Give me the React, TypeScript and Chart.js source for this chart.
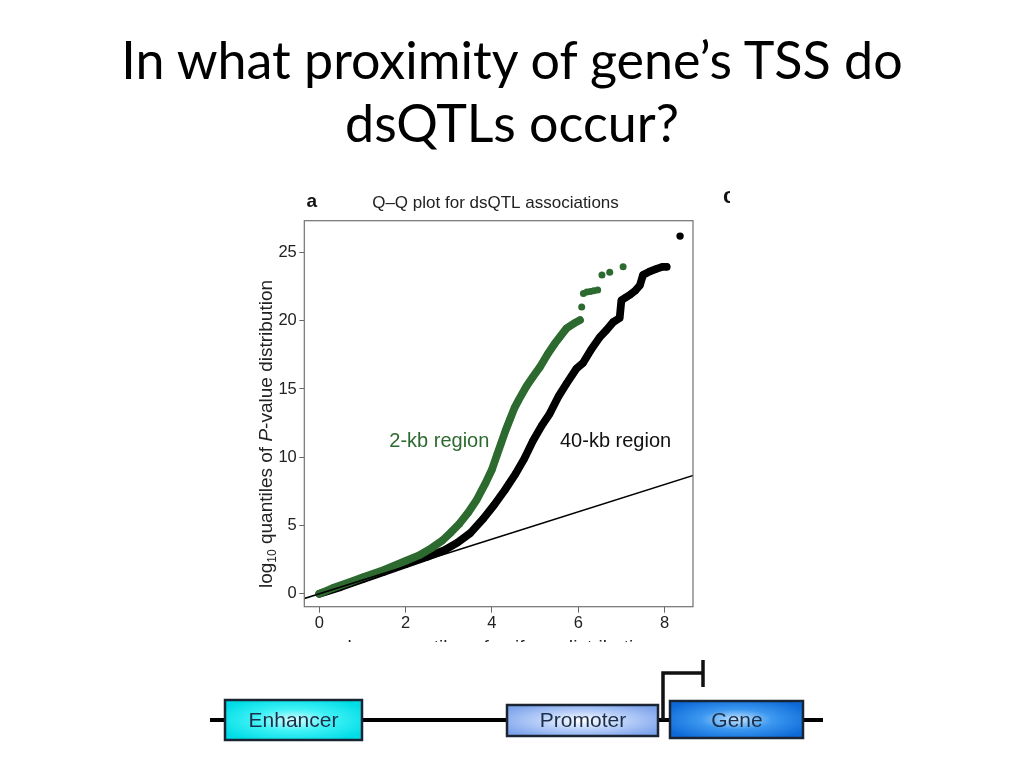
import React, { useEffect, useRef } from 'react';
import { Chart, registerables } from 'chart.js';

Chart.register(...registerables);

// ---- data ----
const xTicks = [0, 2, 4, 6, 8];
const yTicks = [0, 5, 10, 15, 20, 25];

// identity reference line y = x
const identityX = [-1, 9];
const identityY = [-1, 9];

// 2-kb region (green), dense part
const kb2X = [0.0, 0.3, 0.7, 1.0, 1.5, 2.0, 2.3, 2.6, 2.85, 3.05, 3.25, 3.45, 3.65, 3.85, 4.0, 4.12, 4.22, 4.32, 4.42, 4.52, 4.62, 4.8, 4.95, 5.11, 5.3, 5.45, 5.57, 5.73, 5.9, 6.04];
const kb2Y = [0.0, 0.4, 0.85, 1.2, 1.75, 2.4, 2.8, 3.35, 3.9, 4.5, 5.15, 5.95, 6.9, 8.1, 9.1, 10.2, 11.1, 12.0, 12.8, 13.6, 14.2, 15.2, 15.9, 16.6, 17.6, 18.3, 18.8, 19.45, 19.8, 20.05];
// 2-kb region (green), sparse tail
const kb2TailX = [6.08, 6.12, 6.2, 6.28, 6.36, 6.45, 6.55, 6.73, 7.04];
const kb2TailY = [21.0, 22.0, 22.1, 22.15, 22.2, 22.25, 23.35, 23.55, 23.95];

// 40-kb region (black), dense part
const kb40X = [0.0, 0.5, 1.0, 1.5, 2.0, 2.5, 2.9, 3.2, 3.5, 3.8, 4.05, 4.3, 4.55, 4.75, 4.95, 5.15, 5.34, 5.55, 5.73, 5.96, 6.11, 6.3, 6.5, 6.65, 6.81, 6.96, 7.0, 7.1, 7.2, 7.32, 7.43, 7.5, 7.65, 7.81, 7.95, 8.05];
const kb40Y = [0.0, 0.5, 1.05, 1.6, 2.15, 2.7, 3.2, 3.75, 4.45, 5.5, 6.5, 7.6, 8.8, 9.9, 11.2, 12.3, 13.2, 14.5, 15.4, 16.5, 16.9, 17.9, 18.8, 19.3, 19.9, 20.2, 21.5, 21.7, 21.9, 22.2, 22.6, 23.35, 23.6, 23.8, 23.95, 23.95];
// 40-kb region (black), outlier
const kb40TailX = [8.36];
const kb40TailY = [26.2];

const GREEN = '#2d6a2f';
const SANS = '"Liberation Sans", Arial, Helvetica, sans-serif';

const pts = (xs: number[], ys: number[]) => xs.map((x, i) => ({ x, y: ys[i] }));

type Seg = { t: string; font: string; dy: number };

function drawRich(ctx: CanvasRenderingContext2D, segs: Seg[], cx: number, y: number) {
  let total = 0;
  const widths = segs.map((s) => {
    ctx.font = s.font;
    const w = ctx.measureText(s.t).width;
    total += w;
    return w;
  });
  let x = cx - total / 2;
  segs.forEach((s, i) => {
    ctx.font = s.font;
    ctx.fillText(s.t, x, y + s.dy);
    x += widths[i];
  });
}

const annotPlugin = {
  id: 'qqAnnotations',
  afterDraw(chart: any) {
    const ctx: CanvasRenderingContext2D = chart.ctx;
    const a = chart.chartArea;
    ctx.save();
    // plot box
    ctx.strokeStyle = '#707070';
    ctx.lineWidth = 1.2;
    ctx.strokeRect(a.left, a.top, a.right - a.left, a.bottom - a.top);

    ctx.textBaseline = 'alphabetic';
    ctx.textAlign = 'left';
    // panel letters
    ctx.fillStyle = '#111';
    ctx.font = `bold 19px ${SANS}`;
    ctx.fillText('a', 56.5, 21.7);
    ctx.font = `900 22px ${SANS}`;
    ctx.fillText('c', 473, 18);
    // title
    ctx.font = `17px ${SANS}`;
    ctx.textAlign = 'center';
    ctx.fillStyle = '#222';
    ctx.fillText('Q–Q plot for dsQTL associations', 245.5, 22.5);
    // region labels
    ctx.textAlign = 'left';
    ctx.font = `20px ${SANS}`;
    ctx.fillStyle = GREEN;
    ctx.fillText('2-kb region', 139.3, 261.7);
    ctx.fillStyle = '#111';
    ctx.fillText('40-kb region', 310, 261.7);

    // axis titles (rich text)
    const main = `19px ${SANS}`;
    const sub = `12px ${SANS}`;
    const ital = `italic 19px ${SANS}`;
    ctx.fillStyle = '#222';
    ctx.save();
    ctx.translate(21.5, 249);
    ctx.rotate(-Math.PI / 2);
    drawRich(ctx, [
      { t: 'log', font: main, dy: 0 },
      { t: '10', font: sub, dy: 4 },
      { t: ' quantiles of ', font: main, dy: 0 },
      { t: 'P', font: ital, dy: 0 },
      { t: '-value distribution', font: main, dy: 0 },
    ], 0, 0);
    ctx.restore();
    drawRich(ctx, [
      { t: 'log', font: main, dy: 0 },
      { t: '10', font: sub, dy: 4 },
      { t: ' quantiles of uniform distribution', font: main, dy: 0 },
    ], 251, 468);
    ctx.restore();
  },
};

function QQChart() {
  const ref = useRef<HTMLCanvasElement | null>(null);
  useEffect(() => {
    if (!ref.current) return;
    const tickFont = { family: SANS, size: 16.5 };
    const grid = {
      display: true,
      drawOnChartArea: false,
      drawTicks: true,
      tickLength: 5,
      tickColor: '#666',
      lineWidth: 1,
    };
    const chart = new Chart(ref.current, {
      type: 'scatter',
      data: {
        datasets: [
          {
            label: 'identity',
            data: pts(identityX, identityY),
            showLine: true,
            borderColor: '#000',
            borderWidth: 1.6,
            pointRadius: 0,
          },
          {
            label: '2-kb region',
            data: pts(kb2X, kb2Y),
            showLine: true,
            borderColor: GREEN,
            backgroundColor: GREEN,
            pointBackgroundColor: GREEN,
            borderWidth: 7.8,
            pointRadius: 3.5,
            pointBorderWidth: 0,
            borderCapStyle: 'round',
            borderJoinStyle: 'round',
          },
          {
            label: '2-kb region tail',
            data: pts(kb2TailX, kb2TailY),
            showLine: false,
            backgroundColor: GREEN,
            pointBackgroundColor: GREEN,
            pointRadius: 3.5,
            pointBorderWidth: 0,
          },
          {
            label: '40-kb region',
            data: pts(kb40X, kb40Y),
            showLine: true,
            borderColor: '#000',
            backgroundColor: '#000',
            pointBackgroundColor: '#000',
            borderWidth: 7.8,
            pointRadius: 3.5,
            pointBorderWidth: 0,
            borderCapStyle: 'round',
            borderJoinStyle: 'round',
          },
          {
            label: '40-kb region tail',
            data: pts(kb40TailX, kb40TailY),
            showLine: false,
            backgroundColor: '#000',
            pointBackgroundColor: '#000',
            pointRadius: 3.7,
            pointBorderWidth: 0,
          },
        ],
      },
      options: {
        animation: false,
        responsive: false,
        events: [],
        layout: { padding: { top: 35.7, right: 37, left: 0, bottom: 0 } },
        plugins: {
          legend: { display: false },
          tooltip: { enabled: false },
          title: { display: false },
        },
        scales: {
          x: {
            type: 'linear',
            min: -0.35,
            max: 8.66,
            afterBuildTicks: (ax: any) => {
              ax.ticks = xTicks.map((v) => ({ value: v }));
            },
            afterFit: (ax: any) => {
              ax.height = 58.3;
            },
            grid: { ...grid, tickLength: 6 },
            border: { display: false },
            ticks: {
              font: tickFont,
              color: '#222',
              padding: 1,
              maxRotation: 0,
              autoSkip: false,
              callback: (v: any) => String(v),
            },
          },
          y: {
            type: 'linear',
            min: -0.95,
            max: 27.33,
            afterBuildTicks: (ax: any) => {
              ax.ticks = yTicks.map((v) => ({ value: v }));
            },
            afterFit: (ax: any) => {
              ax.width = 54.3;
            },
            grid,
            border: { display: false },
            ticks: {
              font: tickFont,
              color: '#222',
              padding: 2.5,
              autoSkip: false,
              callback: (v: any) => String(v),
            },
          },
        },
      },
      plugins: [annotPlugin],
    } as any);
    return () => chart.destroy();
  }, []);
  return (
    <div style={{ position: 'absolute', left: 250, top: 185, width: 480, height: 457, overflow: 'hidden' }}>
      <canvas ref={ref} width={480} height={480} style={{ width: 480, height: 480, display: 'block' }} />
    </div>
  );
}

function GeneDiagram() {
  const stroke = '#1a2433';
  const textColor = '#1b2f4a';
  const font = SANS;
  return (
    <svg width={1024} height={768} style={{ position: 'absolute', left: 0, top: 0 }}>
      <defs>
        <radialGradient id="gEnh" cx="50%" cy="50%" r="60%">
          <stop offset="0%" stopColor="#d8ffff" />
          <stop offset="45%" stopColor="#40f2f6" />
          <stop offset="100%" stopColor="#00dce6" />
        </radialGradient>
        <radialGradient id="gPro" cx="50%" cy="50%" r="60%">
          <stop offset="0%" stopColor="#ffffff" />
          <stop offset="50%" stopColor="#b6cdf8" />
          <stop offset="100%" stopColor="#7ea4ec" />
        </radialGradient>
        <radialGradient id="gGene" cx="50%" cy="50%" r="60%">
          <stop offset="0%" stopColor="#c6e6ff" />
          <stop offset="45%" stopColor="#3d98f0" />
          <stop offset="100%" stopColor="#0c6ad8" />
        </radialGradient>
      </defs>
      <line x1={210} y1={720} x2={823} y2={720} stroke="#000" strokeWidth={4} />
      <rect x={225} y={700} width={137} height={40} fill="url(#gEnh)" stroke={stroke} strokeWidth={2.5} />
      <text x={293.5} y={727} textAnchor="middle" fontFamily={font} fontSize={21} fill={textColor}>Enhancer</text>
      <rect x={507} y={705} width={151} height={31} fill="url(#gPro)" stroke={stroke} strokeWidth={2.5} />
      <text x={583} y={727} textAnchor="middle" fontFamily={font} fontSize={21} fill={textColor}>Promoter</text>
      <rect x={670} y={701} width={133} height={37} fill="url(#gGene)" stroke={stroke} strokeWidth={2.5} />
      <text x={737} y={727} textAnchor="middle" fontFamily={font} fontSize={21} fill={textColor}>Gene</text>
      <polyline points="663,720 663,673 703,673" fill="none" stroke="#111" strokeWidth={3.5} />
      <line x1={703} y1={660} x2={703} y2={687} stroke="#111" strokeWidth={3.5} />
    </svg>
  );
}

export default function App() {
  return (
    <div style={{ position: 'fixed', left: 0, top: 0, width: 1024, height: 768, background: '#fff', overflow: 'hidden' }}>
      <div
        style={{
          position: 'absolute',
          left: 0,
          top: 28,
          width: 1024,
          textAlign: 'center',
          fontFamily: 'Lato, "Open Sans", sans-serif',
          fontSize: 52,
          lineHeight: '63.3px',
          color: '#000',
        }}
      >
        In what proximity of gene’s TSS do
        <br />
        dsQTLs occur?
      </div>
      <QQChart />
      <GeneDiagram />
    </div>
  );
}
